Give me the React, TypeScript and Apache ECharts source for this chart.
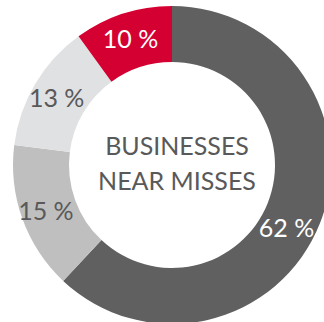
import React, { useEffect, useRef } from "react";
import * as echarts from "echarts";

const categories = ["A", "B", "C", "D"];
const values = [62, 15, 13, 10];
const sliceColors = ["#606060", "#bfbfbf", "#e0e1e3", "#d50032"];
const labelColors = ["#ffffff", "#595959", "#595959", "#ffffff"];
const centerLines = ["BUSINESSES", "NEAR MISSES"];

export default function App() {
  const ref = useRef<HTMLDivElement>(null);
  useEffect(() => {
    const chart = echarts.init(ref.current!, null, { renderer: "svg" });
    chart.setOption({
      animation: false,
      backgroundColor: "#ffffff",
      series: [
        {
          type: "pie",
          center: [172, 165],
          radius: [103, 159],
          startAngle: 90,
          clockwise: true,
          silent: true,
          data: categories.map((c, i) => ({
            name: c,
            value: values[i],
            itemStyle: { color: sliceColors[i] },
            label: {
              color: labelColors[i],
              offset: i === 0 ? [-10, 13] : [0, 0],
            },
          })),
          label: {
            show: true,
            position: "inside",
            formatter: (p: any) => `${p.value} %`,
            fontFamily: "Lato",
            fontSize: 25,
          },
          labelLine: { show: false },
        },
      ],
      graphic: centerLines.map((t, i) => ({
        type: "text",
        x: 177,
        y: 145 + i * 35,
        style: {
          text: t,
          fill: "#595959",
          font: "25px Lato",
          textAlign: "center",
          textVerticalAlign: "middle",
        },
      })),
    });
    return () => chart.dispose();
  }, []);
  return (
    <div
      ref={ref}
      style={{ position: "absolute", left: 0, top: 0, width: 324, height: 322 }}
    />
  );
}
